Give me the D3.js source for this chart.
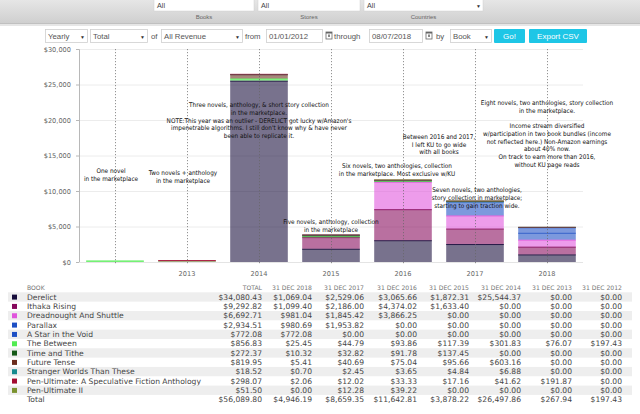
<!DOCTYPE html>
<html><head><meta charset="utf-8">
<script src="https://cdn.jsdelivr.net/npm/d3@7"></script>
<style>body{margin:0;background:#fff;}svg{display:block;}</style>
</head><body>
<script>
// ---------- DATA ----------
const years = ["2012","2013","2014","2015","2016","2017","2018"];
const xTickLabels = ["","2013","2014","2015","2016","2017","2018"];
const yTicks = [0,5000,10000,15000,20000,25000,30000];
const books = ["Derelict","Ithaka Rising","Dreadnought And Shuttle","Parallax","A Star in the Void","The Between","Time and Tithe","Future Tense","Stranger Worlds Than These","Pen-Ultimate: A Speculative Fiction Anthology","Pen-Ultimate II"];
const bookColors = ["#160c3a","#86085c","#e055dc","#1d4fc4","#1d4fc4","#52ec52","#155a18","#6a2c1c","#168a8e","#a20c30","#7a922e"];
// values per book, order: 2012..2018
const derelict   = [0,0,25544.37,1872.31,3065.66,2529.06,1069.04];
const ithaka     = [0,0,0,1633.40,4374.02,2186.00,1099.40];
const dreadnought= [0,0,0,0,3866.25,1845.42,981.04];
const parallax   = [0,0,0,0,0,1953.82,980.69];
const starVoid   = [0,0,0,0,0,0,772.08];
const between    = [197.43,76.07,301.83,117.39,93.86,44.79,25.45];
const timeTithe  = [0,0,0,137.45,91.78,32.82,10.32];
const futureTense= [0,0,603.16,95.66,75.04,40.69,5.41];
const stranger   = [0,0,6.88,4.84,3.65,2.45,0.70];
const penUlt     = [0,191.87,41.62,17.16,33.33,12.02,2.06];
const penUlt2    = [0,0,0,0,39.22,12.28,0.00];
const bookTotals = ["$34,080.43","$9,292.82","$6,692.71","$2,934.51","$772.08","$856.83","$272.37","$819.95","$18.52","$298.07","$51.50"];
const grandTotal = "$56,089.80";
const yearTotals = ["$197.43","$267.94","$26,497.86","$3,878.22","$11,642.81","$8,659.35","$4,946.19"];
const tableHeaders = ["BOOK","TOTAL","31 DEC 2018","31 DEC 2017","31 DEC 2016","31 DEC 2015","31 DEC 2014","31 DEC 2013","31 DEC 2012"];
const annotations = [
  {key:"a2012", lines:["One novel","in the marketplace"]},
  {key:"a2013", lines:["Two novels + anthology","in the marketplace"]},
  {key:"a2014", lines:["Three novels, anthology, & short story collection","in the marketplace.","NOTE:This year was an outlier - DERELICT got lucky w/Amazon's","impenetrable algorithms. I still don't know why & have never","been able to replicate it."]},
  {key:"a2015", lines:["Five novels, anthology, collection","in the marketplace"]},
  {key:"a2016", lines:["Six novels, two anthologies, collection","in the marketplace. Most exclusive w/KU"]},
  {key:"aKU", lines:["Between 2016 and 2017,","I left KU to go wide","with all books"]},
  {key:"a2017", lines:["Seven novels, two anthologies,","story collection in marketplace;","starting to gain traction wide."]},
  {key:"a2018", lines:["Eight novels, two anthologies, story collection","in the marketplace.","","Income stream diversified","w/participation in two book bundles (income","not reflected here.) Non-Amazon earnings","about 40% now.","On track to earn more than 2016,","without KU page reads"]}
];
const series = [derelict,ithaka,dreadnought,parallax,starVoid,between,timeTithe,futureTense,stranger,penUlt,penUlt2];

// ---------- LAYOUT ----------
const W=640,H=414;
const svg=d3.select("body").append("svg").attr("width",W).attr("height",H);
const sans="'Liberation Sans',Arial,sans-serif";
const verd="'DejaVu Sans',Verdana,sans-serif";

// header bar
const defs=svg.append("defs");
const g1=defs.append("linearGradient").attr("id","hdr").attr("x1",0).attr("x2",0).attr("y1",0).attr("y2",1);
g1.append("stop").attr("offset","0%").attr("stop-color","#e6e6e6");
g1.append("stop").attr("offset","100%").attr("stop-color","#cfcfcf");
svg.append("rect").attr("x",0).attr("y",0).attr("width",W).attr("height",23).attr("fill","url(#hdr)");
svg.append("rect").attr("x",0).attr("y",23).attr("width",W).attr("height",1).attr("fill","#c0c0c0");
svg.append("rect").attr("x",0).attr("y",24).attr("width",W).attr("height",2).attr("fill","#e6e6e6");
const filters=[{x:154,w:100,l:"Books"},{x:258,w:102,l:"Stores"},{x:364,w:119,l:"Countries"}];
filters.forEach((f,i)=>{
  svg.append("rect").attr("x",f.x).attr("y",-1).attr("width",f.w).attr("height",12).attr("fill","#fff").attr("stroke","#d0d0d0").attr("stroke-width",0.5);
  svg.append("text").attr("x",f.x+3).attr("y",7.5).attr("font-family",sans).attr("font-size",7.2).attr("fill","#444").text("All");
  if(i===2) svg.append("text").attr("x",f.x+f.w-7).attr("y",7.5).attr("font-family",sans).attr("font-size",5).attr("fill","#333").text("▼");
  svg.append("text").attr("x",f.x+f.w/2).attr("y",18.5).attr("text-anchor","middle").attr("font-family",sans).attr("font-size",6).attr("fill","#666").text(f.l);
});

// control row
const ctrl=[
  {t:"box",x:45,w:42,s:"Yearly",dd:true},
  {t:"box",x:90,w:57,s:"Total",dd:true},
  {t:"lbl",x:151,s:"of"},
  {t:"box",x:161,w:81,s:"All Revenue",dd:true},
  {t:"lbl",x:245,s:"from"},
  {t:"box",x:266,w:56,s:"01/01/2012",cal:true},
  {t:"lbl",x:334,s:"through"},
  {t:"box",x:369,w:53,s:"08/07/2018",cal:true},
  {t:"lbl",x:436,s:"by"},
  {t:"box",x:450,w:41,s:"Book",dd:true},
  {t:"btn",x:494,w:31,s:"Go!"},
  {t:"btn",x:529,w:58,s:"Export CSV"}
];
ctrl.forEach(c=>{
  if(c.t==="box"){
    svg.append("rect").attr("x",c.x+0.5).attr("y",29.5).attr("width",c.w).attr("height",13).attr("fill","#fff").attr("stroke","#cfcfcf").attr("stroke-width",0.8);
    svg.append("text").attr("x",c.x+3).attr("y",39).attr("font-family",sans).attr("font-size",7.8).attr("fill","#555").text(c.s);
    if(c.dd) svg.append("text").attr("x",c.x+c.w-7).attr("y",38.5).attr("font-family",sans).attr("font-size",5).attr("fill","#333").text("▼");
    if(c.cal){
      const cx=c.x+c.w+4;
      svg.append("rect").attr("x",cx).attr("y",32).attr("width",6).attr("height",7).attr("fill","none").attr("stroke","#666").attr("stroke-width",0.8);
      svg.append("rect").attr("x",cx).attr("y",32).attr("width",6).attr("height",1.5).attr("fill","#666");
      svg.append("rect").attr("x",cx+2).attr("y",34.5).attr("width",2).attr("height",2.5).attr("fill","#888");
    }
  } else if(c.t==="lbl"){
    svg.append("text").attr("x",c.x).attr("y",39).attr("font-family",sans).attr("font-size",7.8).attr("fill","#555").text(c.s);
  } else {
    svg.append("rect").attr("x",c.x).attr("y",29).attr("width",c.w).attr("height",14).attr("fill","#1ec6e6").attr("rx",1);
    svg.append("text").attr("x",c.x+c.w/2).attr("y",39).attr("text-anchor","middle").attr("font-family",sans).attr("font-size",8).attr("fill","#fff").text(c.s);
  }
});

// ---------- CHART ----------
const x=d3.scaleBand().domain(years).range([79,583]).paddingInner(0.2).paddingOuter(0.1);
const y=d3.scaleLinear().domain([0,30000]).range([262,49]);

// gridlines
svg.append("g").selectAll("line").data(yTicks).join("line")
  .attr("x1",79).attr("x2",583).attr("y1",d=>y(d)+0.5).attr("y2",d=>y(d)+0.5)
  .attr("stroke","#ececec").attr("stroke-width",1);

// y axis
const yAxis=svg.append("g").attr("transform","translate(79,0)")
  .call(d3.axisLeft(y).tickValues(yTicks).tickSize(3).tickFormat(d=>"$"+d3.format(",")(d)));
yAxis.select(".domain").attr("stroke","#b8b8b8");
yAxis.selectAll(".tick line").attr("stroke","#b8b8b8");
yAxis.selectAll("text").attr("font-family",verd).attr("font-size",6.6).attr("fill","#666").attr("dx",-2);

// stacked bars
const table=years.map((yr,i)=>{const o={year:yr};books.forEach((b,j)=>o[b]=series[j][i]);return o;});
const stack=d3.stack().keys(books)(table);
const barG=svg.append("g");
stack.forEach((layer,j)=>{
  const col=bookColors[j];
  layer.forEach(d=>{
    const h=y(d[0])-y(d[1]);
    if(h<=0) return;
    barG.append("rect").attr("x",x(d.data.year)).attr("y",y(d[1])).attr("width",x.bandwidth()).attr("height",h)
      .attr("fill",col).attr("fill-opacity",0.58);
    barG.append("line").attr("x1",x(d.data.year)).attr("x2",x(d.data.year)+x.bandwidth())
      .attr("y1",y(d[1])+0.5).attr("y2",y(d[1])+0.5).attr("stroke",col).attr("stroke-opacity",0.85).attr("stroke-width",Math.min(1,Math.max(0.6,h)));
  });
});

// baseline
svg.append("line").attr("x1",79).attr("x2",583).attr("y1",y(0)+0.5).attr("y2",y(0)+0.5).attr("stroke","#e4e4e4");

// x axis labels
const xAxis=svg.append("g").attr("transform","translate(0,267)")
  .call(d3.axisBottom(x).tickSize(0).tickFormat((d,i)=>xTickLabels[i]));
xAxis.select(".domain").remove();
xAxis.selectAll("text").attr("font-family",verd).attr("font-size",6.6).attr("fill","#666").attr("dy","0.9em");

// dotted vertical lines at band centers
svg.append("g").selectAll("line").data(years).join("line")
  .attr("x1",d=>x(d)+x.bandwidth()/2+0.5).attr("x2",d=>x(d)+x.bandwidth()/2+0.5)
  .attr("y1",49).attr("y2",265)
  .attr("stroke","#666").attr("stroke-width",0.7).attr("stroke-dasharray","1.2,1.8");

// annotations
const cx=yr=>x(yr)+x.bandwidth()/2;
const annPos={
  a2012:{x:cx("2012")-4,y:171},
  a2013:{x:cx("2013")-4,y:173},
  a2014:{x:cx("2014"),y:105},
  a2015:{x:cx("2015"),y:222},
  a2016:{x:cx("2016")-6,y:165.7},
  aKU:{x:(cx("2016")+cx("2017"))/2,y:136.7},
  a2017:{x:cx("2017")+2,y:190},
  a2018:{x:cx("2018"),y:102.7}
};
annotations.forEach(a=>{
  const p=annPos[a.key];
  const t=svg.append("text").attr("text-anchor","middle").attr("font-family","'Liberation Sans Narrow','DejaVu Sans Condensed',sans-serif")
    .attr("font-size",6.4).attr("fill","#111");
  a.lines.forEach((l,i)=>{
    t.append("tspan").attr("x",p.x).attr("y",p.y+2.2+i*7.75).text(l);
  });
});

// ---------- TABLE ----------
const colRight=[null,262,312,364,417,469,521,572,622];
const rowY0=297, rowStep=9.33;
const fs=7.6;
const tg=svg.append("g");
// header
tableHeaders.forEach((h,i)=>{
  const t=tg.append("text").attr("y",289.5).attr("font-family",verd).attr("font-size",6.1).attr("fill","#777").text(h);
  if(i===0) t.attr("x",27); else t.attr("x",colRight[i]).attr("text-anchor","end");
});
books.forEach((b,r)=>{
  const cy=rowY0+r*rowStep;
  if(r%2===0) tg.append("rect").attr("x",8).attr("y",cy-4.7).attr("width",624).attr("height",rowStep).attr("fill","#eeeeee");
  tg.append("rect").attr("x",12).attr("y",cy-2.4).attr("width",5).attr("height",5).attr("fill",bookColors[r]);
  tg.append("text").attr("x",27).attr("y",cy+2.7).attr("font-family",verd).attr("font-size",fs).attr("fill","#444").text(b);
  const vals=[bookTotals[r]].concat(years.slice().reverse().map(yr=>{const v=series[r][years.indexOf(yr)];return "$"+d3.format(",.2f")(v);}));
  vals.forEach((v,k)=>{
    tg.append("text").attr("x",colRight[k+1]).attr("y",cy+2.7).attr("text-anchor","end").attr("font-family",verd).attr("font-size",fs).attr("fill","#444").text(v);
  });
});
{
  const cy=rowY0+books.length*rowStep;
  tg.append("text").attr("x",27).attr("y",cy+2.7).attr("font-family",verd).attr("font-size",fs).attr("fill","#444").text("Total");
  const vals=[grandTotal].concat(yearTotals.slice().reverse());
  vals.forEach((v,k)=>{
    tg.append("text").attr("x",colRight[k+1]).attr("y",cy+2.7).attr("text-anchor","end").attr("font-family",verd).attr("font-size",fs).attr("fill","#444").text(v);
  });
}
</script>
</body></html>
